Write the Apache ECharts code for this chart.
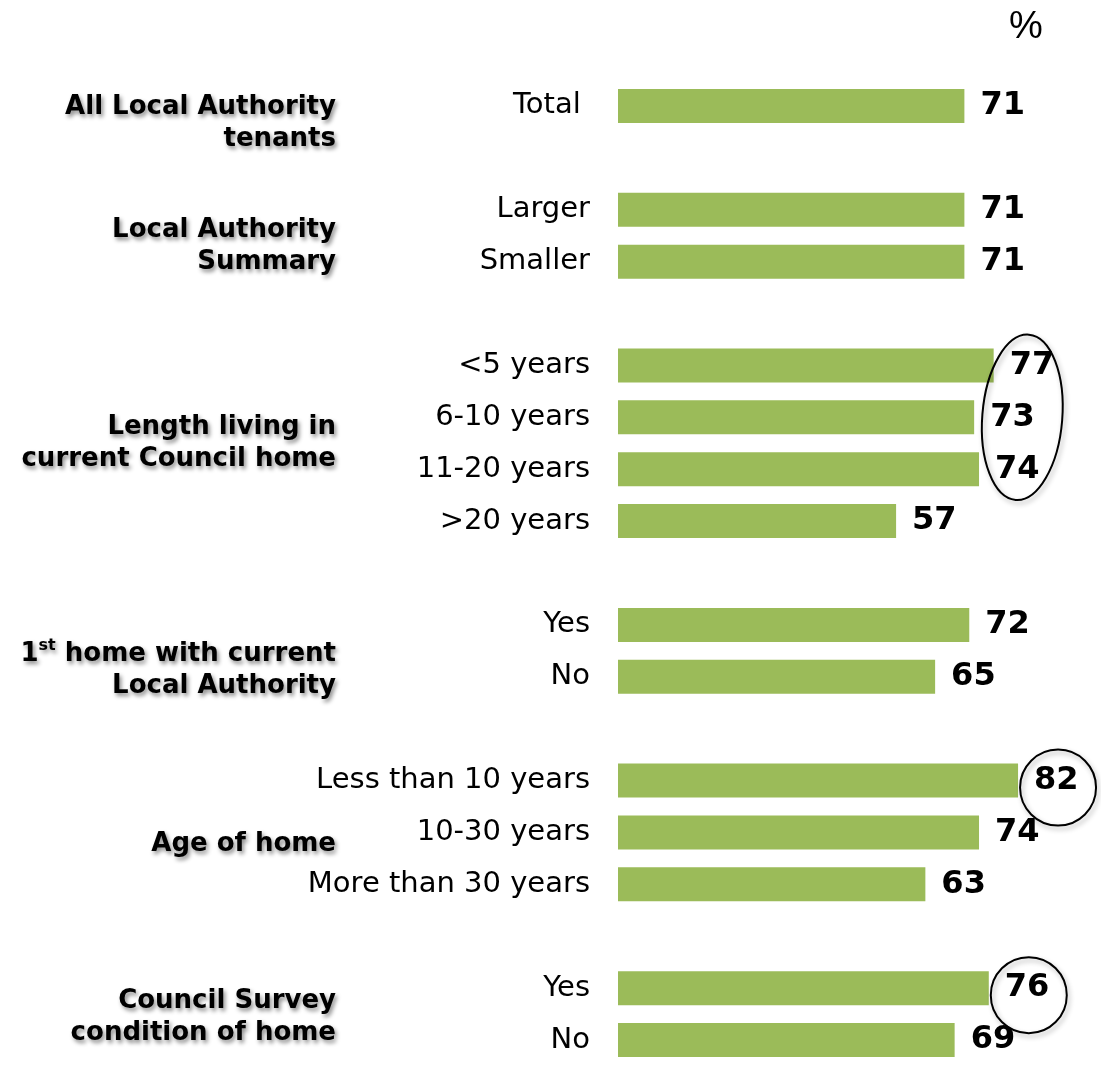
<!DOCTYPE html>
<html>
<head>
<meta charset="utf-8">
<script src="https://cdn.jsdelivr.net/npm/echarts@6/dist/echarts.min.js"></script>
<style>
  html, body { margin: 0; padding: 0; background: #fff; }
  #chart { width: 1101px; height: 1066px; }
</style>
</head>
<body>
<div id="chart"></div>
<script>
// rows (blank entries are the spacers between groups)
var categories = ['Total ', ' ', 'Larger', 'Smaller', '  ', '<5 years', '6-10 years', '11-20 years', '>20 years', '   ',
    'Yes', 'No', '    ', 'Less than 10 years', '10-30 years', 'More than 30 years', '     ', 'Yes', 'No'];
var values = [71, null, 71, 71, null, 77, 73, 74, 57, null, 72, 65, null, 82, 74, 63, null, 76, 69];

// group titles and the rows they cover
var groupNames = [
    ['All Local Authority', 'tenants'],
    ['Local Authority', 'Summary'],
    ['Length living in', 'current Council home'],
    ['1{sup|st} home with current', 'Local Authority'],
    ['Age of home'],
    ['Council Survey', 'condition of home']
];
var groupRows = [[0, 0], [2, 3], [5, 8], [10, 11], [13, 15], [17, 18]];
// small vertical tweaks for the titles (px)
var titleNudge = [17, 11, 0, 19, 12, 3];

// highlighted results (ring around labels)
var ringRows = [[5, 7], [13, 13], [17, 17]];

var chart = echarts.init(document.getElementById('chart'));
var FONT = '"DejaVu Sans", Verdana, sans-serif';

var option = {
    animation: false,
    title: {
        text: '%',
        left: 1004,
        top: 4,
        textStyle: { fontFamily: '"Liberation Sans", Arial, sans-serif', fontSize: 38, fontWeight: 'normal', color: '#000' }
    },
    grid: { left: 618, right: 0, top: 80, bottom: -3, containLabel: false },
    xAxis: { type: 'value', min: 0, max: 99, show: false },
    yAxis: {
        type: 'category',
        inverse: true,
        data: categories,
        axisLine: { show: false },
        axisTick: { show: false },
        splitLine: { show: false },
        axisLabel: { fontFamily: FONT, fontSize: 29, color: '#000', margin: 28 }
    },
    series: [{
        type: 'bar',
        data: values,
        barWidth: 34,
        itemStyle: { color: '#9BBB59' },
        label: {
            show: true,
            position: 'right',
            distance: 16,
            fontFamily: FONT,
            fontSize: 32,
            fontWeight: 'bold',
            color: '#000'
        }
    }]
};
chart.setOption(option);

// group titles and rings positioned from the axes
var graphics = [];
groupNames.forEach(function (lines, i) {
    var y0 = chart.convertToPixel({ gridIndex: 0 }, [0, groupRows[i][0]])[1];
    var y1 = chart.convertToPixel({ gridIndex: 0 }, [0, groupRows[i][1]])[1];
    graphics.push({
        type: 'text',
        x: 336,
        y: (y0 + y1) / 2 + titleNudge[i],
        style: {
            text: lines.join('\n'),
            align: 'right',
            verticalAlign: 'middle',
            font: 'bold 26px ' + FONT,
            lineHeight: 32,
            fill: '#000',
            textShadowColor: 'rgba(0,0,0,0.45)',
            textShadowBlur: 4,
            textShadowOffsetX: 2,
            textShadowOffsetY: 3,
            rich: { sup: { font: 'bold 16px ' + FONT, verticalAlign: 'top', lineHeight: 32, padding: [0, 0, 10, 0] } }
        }
    });
});
ringRows.forEach(function (r) {
    var sum = 0, n = 0;
    for (var k = r[0]; k <= r[1]; k++) { sum += values[k]; n++; }
    var single = r[0] === r[1];
    var pA = chart.convertToPixel({ gridIndex: 0 }, [sum / n, r[0]]);
    var pB = chart.convertToPixel({ gridIndex: 0 }, [sum / n, r[1]]);
    var cx = pA[0] + 40, cy = (pA[1] + pB[1]) / 2 + (single ? 7 : 0);
    graphics.push({
        type: 'ellipse',
        x: cx, y: cy,
        rotation: single ? 0 : -0.08,
        shape: { cx: 0, cy: 0, rx: single ? 38 : 40, ry: single ? 38 : (pB[1] - pA[1]) / 2 + 31 },
        style: {
            fill: 'none', stroke: '#000', lineWidth: 2,
            shadowColor: 'rgba(0,0,0,0.3)', shadowBlur: 5, shadowOffsetX: 2, shadowOffsetY: 3
        },
        z: 10
    });
});
chart.setOption({ graphic: graphics });
</script>
</body>
</html>
